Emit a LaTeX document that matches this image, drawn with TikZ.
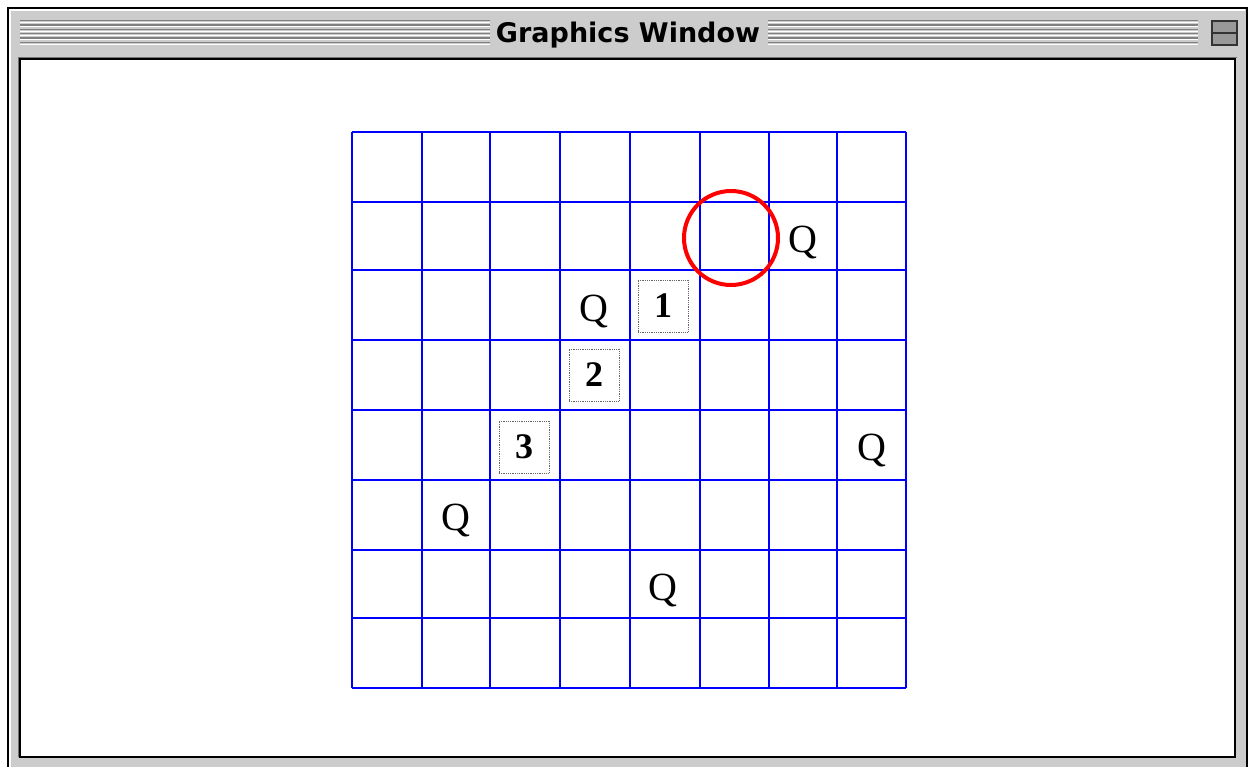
\documentclass[tikz,border=0pt]{standalone}
\usepackage{fontspec}
\setmainfont{Liberation Serif}
\newfontfamily\titlefont{DejaVu Sans}
\begin{document}
\begin{tikzpicture}[x=1pt,y=-1pt,
  gridline/.style={blue, line width=2pt},
  queen/.style={font=\fontsize{40}{40}\selectfont, inner sep=0pt, anchor=base},
  numbox/.style={draw=black!60, densely dotted, line width=0.8pt, minimum width=50pt, minimum height=52pt, inner sep=0pt, font=\fontsize{36}{36}\selectfont\bfseries},
  stripe/.style={black!50, line width=1.4pt},
  stripehi/.style={white, line width=1pt},
]
\useasboundingbox (0,0) rectangle (1248,766);
\fill[white] (0,0) rectangle (1248,766);
% window frame
\fill[black!20] (8,8) rectangle (1247,770);
\draw[white, line width=1.5pt] (10,770) -- (10,10) -- (1245,10);
\draw[black, line width=2pt] (8,770) -- (8,8) -- (1247,8) -- (1247,770);
% title bar stripes
\foreach \i in {0,...,5}{
  \draw[stripe] (20,{20.7+4.35*\i}) -- (490,{20.7+4.35*\i});
  \draw[stripehi] (20,{22.4+4.35*\i}) -- (490,{22.4+4.35*\i});
  \draw[stripe] (768,{20.7+4.35*\i}) -- (1198,{20.7+4.35*\i});
  \draw[stripehi] (768,{22.4+4.35*\i}) -- (1198,{22.4+4.35*\i});
}
\node[font=\titlefont\bfseries\fontsize{27}{27}\selectfont, anchor=base, inner sep=0pt] (title) at (628,42.5) {Graphics Window};
% zoom box icon
\node[draw=black!80, line width=2pt, fill=black!40, minimum width=25pt, minimum height=24pt, inner sep=0pt] (zoombox) at (1224,33) {};
\draw[black!80, line width=2pt] (zoombox.west) -- (zoombox.east);
% content area
\draw[black!55, line width=1.5pt] (18.5,757) -- (18.5,57.5) -- (1236.5,57.5);
\fill[white] (20,59) rectangle (1235,757);
\draw[black, line width=2pt] (20,59) rectangle (1235,757);
% grid
\foreach \x in {352,422,490,560,630,700,769,837,906}
  \draw[gridline] (\x,132) -- (\x,688);
\foreach \y in {132,202,270,340,410,480,550,618,688}
  \draw[gridline] (352,\y) -- (906,\y);
% red circle
\draw[red, line width=4pt] (731,238) circle (47);
% queens
\node[queen] (q1) at (803,252) {Q};
\node[queen] (q2) at (594,321) {Q};
\node[queen] (q3) at (872,460) {Q};
\node[queen] (q4) at (456,530) {Q};
\node[queen] (q5) at (663,600) {Q};
% numbered boxes
\node[numbox] (b1) at (663,306) {1};
\node[numbox] (b2) at (594,375) {2};
\node[numbox] (b3) at (524,447) {3};
\end{tikzpicture}
\end{document}
